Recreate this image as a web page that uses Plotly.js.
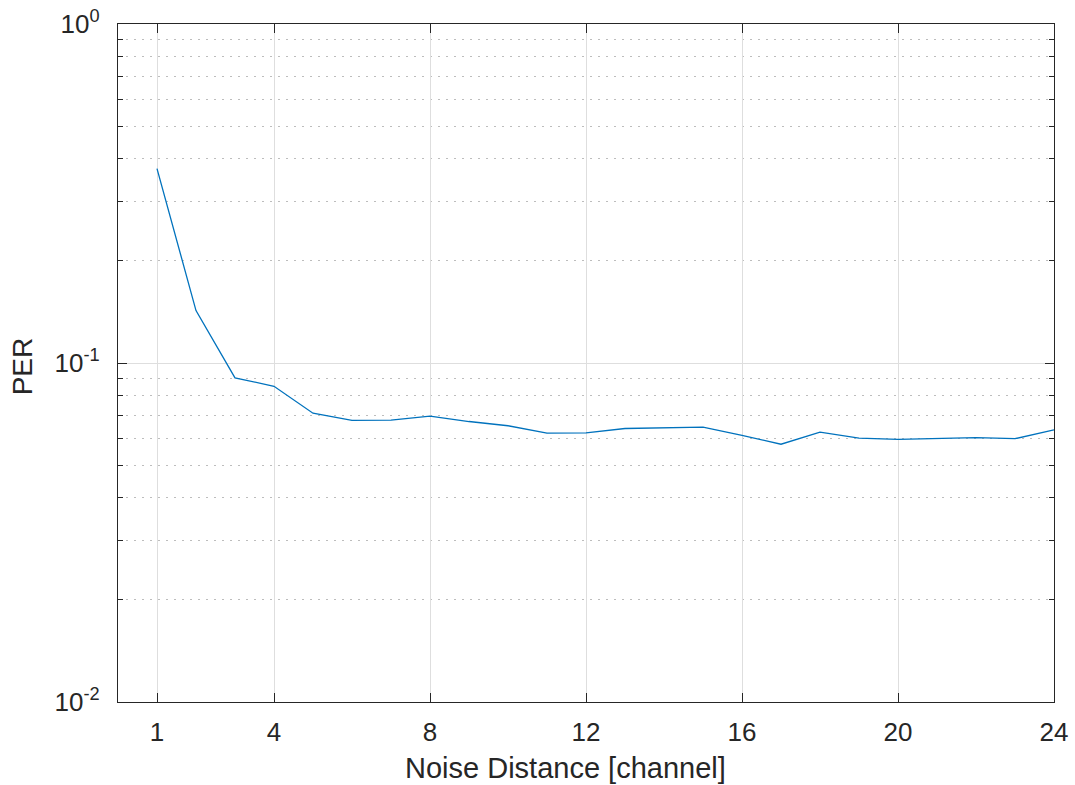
<!DOCTYPE html>
<html>
<head>
<meta charset="utf-8">
<script src="https://cdn.plot.ly/plotly-3.0.1.min.js"></script>
<style>html,body{margin:0;padding:0;background:#fff;}#chart{width:1075px;height:785px;}</style>
</head>
<body>
<div id="chart"></div>
<script>
// Data
const noiseDistance = [1,2,3,4,5,6,7,8,9,10,11,12,13,14,15,16,17,18,19,20,21,22,23,24];
const per = [0.3744,0.1428,0.0904,0.0854,0.0711,0.0677,0.0678,0.0697,0.0672,0.0653,0.0621,0.0622,
             0.0641,0.0643,0.0647,0.0612,0.0576,0.0625,0.0600,0.0595,0.0599,0.0602,0.0598,0.0635];
const xTickVals = [1,4,8,12,16,20,24];
const yTickVals = [0.01,0.1,1];
const yTickText = ['10<sup>-2</sup>','10<sup>-1</sup>','10<sup>0</sup>'];
const yMinorVals = [0.02,0.03,0.04,0.05,0.06,0.07,0.08,0.09,0.2,0.3,0.4,0.5,0.6,0.7,0.8,0.9];
const xTitle = 'Noise Distance [channel]';
const yTitle = 'PER';

const axisColor = '#262626';
const fam = '"Liberation Sans", Arial, Helvetica, sans-serif';

const trace = {
  x: noiseDistance, y: per, type: 'scatter', mode: 'lines',
  line: {color: '#0072BD', width: 1.3}, hoverinfo: 'x+y'
};

const layout = {
  width: 1075, height: 785,
  margin: {l: 118, r: 21, t: 24, b: 83, pad: 0},
  paper_bgcolor: '#fff', plot_bgcolor: '#fff',
  font: {family: fam, size: 26, color: axisColor},
  showlegend: false,
  xaxis: {
    range: [0, 24], tickmode: 'array', tickvals: xTickVals,
    ticks: 'inside', ticklen: 9, tickwidth: 1, tickcolor: axisColor,
    showline: true, linecolor: axisColor, linewidth: 1.2, mirror: 'ticks',
    showgrid: true, gridcolor: '#dedede', gridwidth: 1,
    zeroline: false, ticklabelstandoff: 7,
    tickfont: {family: fam, size: 26, color: axisColor},
    automargin: false
  },
  yaxis: {
    type: 'log', range: [-2, 0], tickmode: 'array', tickvals: yTickVals, ticktext: yTickText,
    ticks: 'inside', ticklen: 9, tickwidth: 1, tickcolor: axisColor,
    showline: true, linecolor: axisColor, linewidth: 1.2, mirror: 'ticks',
    showgrid: true, gridcolor: '#dedede', gridwidth: 1,
    zeroline: false, ticklabelstandoff: 12,
    tickfont: {family: fam, size: 26, color: axisColor},
    minor: {tickmode: 'array', tickvals: yMinorVals, ticks: 'inside', ticklen: 5, tickcolor: axisColor,
            showgrid: true, gridcolor: '#bdbdbd', gridwidth: 1, griddash: '2px,6px'},
    automargin: false
  },
  annotations: [
    {text: xTitle, xref: 'paper', yref: 'paper', x: 0.4776, y: -0.098, xanchor: 'center', yanchor: 'middle',
     showarrow: false, font: {family: fam, size: 29, color: axisColor}},
    {text: yTitle, xref: 'paper', yref: 'paper', x: -0.1026, y: 0.495, xanchor: 'center', yanchor: 'middle',
     textangle: -90, showarrow: false, font: {family: fam, size: 28, color: axisColor}}
  ]
};

Plotly.newPlot('chart', [trace], layout, {displayModeBar: false, staticPlot: true});
</script>
</body>
</html>
